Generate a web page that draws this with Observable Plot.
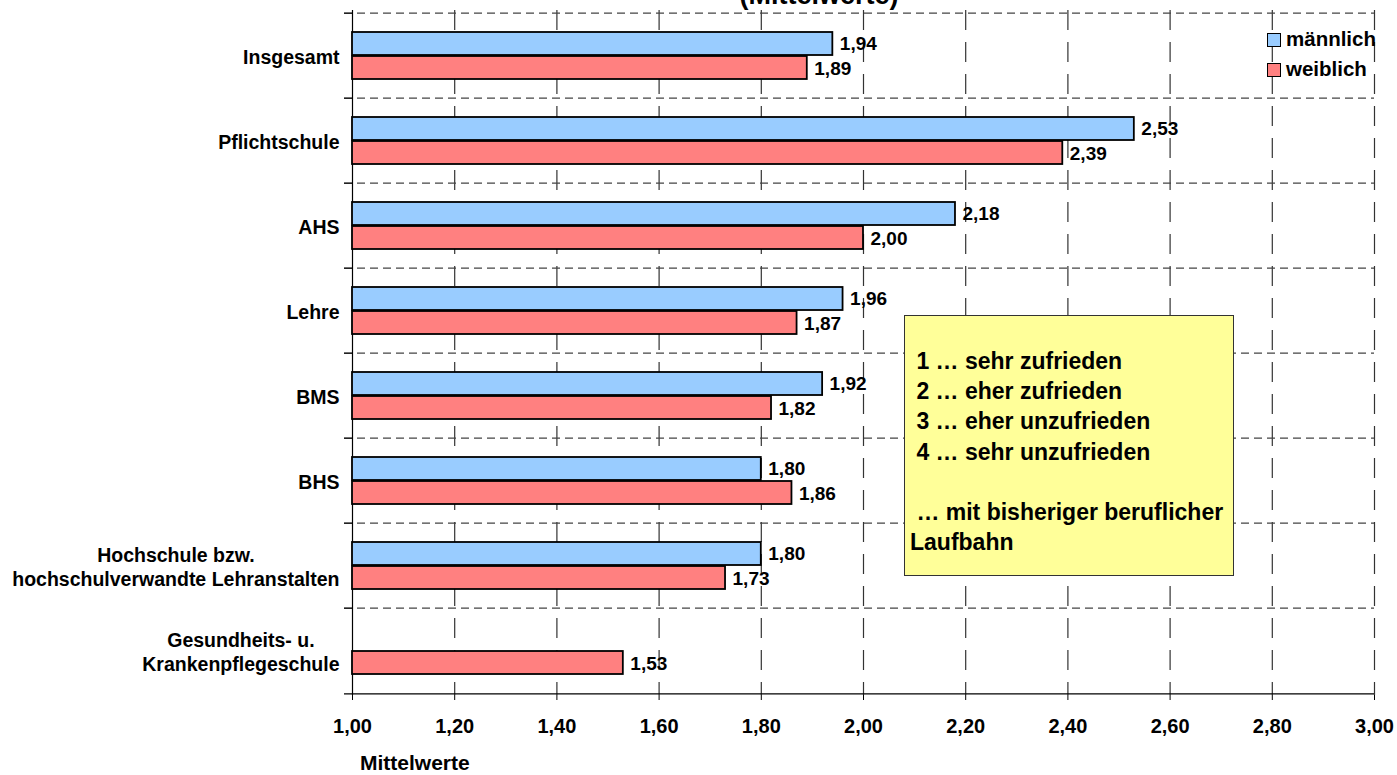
<!DOCTYPE html>
<html>
<head>
<meta charset="utf-8">
<script src="https://cdn.jsdelivr.net/npm/d3@7"></script>
<script src="https://cdn.jsdelivr.net/npm/@observablehq/plot@0.6"></script>
<style>
  html, body { margin: 0; padding: 0; background: #fff; overflow: hidden; }
  #wrap { position: relative; width: 1397px; height: 775px; overflow: hidden; font-family: "Liberation Sans", Arial, sans-serif; font-weight: bold; color: #000; }
  #chart { position: absolute; left: 0; top: 0; }
  .title { position: absolute; top: -18px; left: 0; width: 1638px; text-align: center; font-size: 27px; line-height: 27px; }
  .legend { position: absolute; left: 1267px; font-size: 20.5px; line-height: 20px; white-space: nowrap; }
  .legend span.sw { display: inline-block; width: 12px; height: 12px; border: 1.5px solid #000; vertical-align: -1px; margin-right: 5px; }
  .note { position: absolute; left: 904px; top: 315px; width: 330px; height: 261px; background: #FFFF99; border: 1.5px solid #333; box-sizing: border-box; }
  .note div { position: absolute; left: 5px; font-size: 23px; line-height: 30px; white-space: pre; }
  .xlabel { position: absolute; left: 360px; top: 752px; font-size: 21px; line-height: 22px; }
</style>
</head>
<body>
<div id="wrap">
  <div id="chart"></div>
</div>
<script>
// ---- data ----
const categories = ["Insgesamt", "Pflichtschule", "AHS", "Lehre", "BMS", "BHS", "Hochschule", "Gesundheit"];
const categoryLabels = [
  "Insgesamt",
  "Pflichtschule",
  "AHS",
  "Lehre",
  "BMS",
  "BHS",
  "Hochschule bzw.\nhochschulverwandte Lehranstalten",
  "Gesundheits- u.\nKrankenpflegeschule"
];
const maennlich = [1.94, 2.53, 2.18, 1.96, 1.92, 1.80, 1.80, null];
const weiblich  = [1.89, 2.39, 2.00, 1.87, 1.82, 1.86, 1.73, 1.53];
const seriesNames = ["männlich", "weiblich"];
const seriesColors = ["#99CCFF", "#FF8080"];
const xTicks = [1.0, 1.2, 1.4, 1.6, 1.8, 2.0, 2.2, 2.4, 2.6, 2.8, 3.0];
const titleText = "(Mittelwerte)";
const axisTitle = "Mittelwerte";
const noteLines = [" 1 … sehr zufrieden", " 2 … eher zufrieden", " 3 … eher unzufrieden", " 4 … sehr unzufrieden", "", " … mit bisheriger beruflicher", "Laufbahn"];

// ---- layout ----
const W = 1397, H = 775;
const mL = 352, mR = 23, mT = 10, mB = 80;
const band = (H - mT - mB) / categories.length;
const fmt = d => d.toFixed(2).replace(".", ",");

const maleRows = categories.map((c, i) => ({c, v: maennlich[i]})).filter(d => d.v != null);
const femaleRows = categories.map((c, i) => ({c, v: weiblich[i]})).filter(d => d.v != null);

// measure label widths for centred multi-line labels
const ctx = document.createElement("canvas").getContext("2d");
const labelFontSize = 19.5;
ctx.font = `bold ${labelFontSize}px "Liberation Sans", Arial`;
const labelMarks = categories.map((c, i) => {
  const lines = categoryLabels[i].split("\n");
  const w = Math.max(...lines.map(l => ctx.measureText(l).width));
  return Plot.text([c], {
    y: d => d, text: () => categoryLabels[i], frameAnchor: "left",
    textAnchor: "middle", dx: -(13 + w / 2), lineHeight: 1.28,
    fontSize: labelFontSize, fontWeight: "bold", fill: "#000"
  });
});

const chart = Plot.plot({
  width: W, height: H,
  marginLeft: mL, marginRight: mR, marginTop: mT, marginBottom: mB,
  style: {fontFamily: '"Liberation Sans", Arial, sans-serif', fontWeight: "bold", color: "#000", background: "transparent", overflow: "visible"},
  x: {domain: [1, 3]},
  y: {domain: categories, padding: 0, axis: null},
  marks: [
    // vertical dashed grid
    Plot.ruleX(xTicks.slice(1), {stroke: "#333", strokeWidth: 1.2, strokeDasharray: "20,12"}),
    // horizontal dashed grid at category boundaries
    Plot.ruleY(categories, {y: d => d, dy: -band / 2, stroke: "#444", strokeWidth: 1.2, strokeDasharray: "8,5", insetLeft: -8}),
    // left-axis boundary ticks
    Plot.ruleY(categories, {y: d => d, dy: -band / 2, x1: 1, x2: 1, insetLeft: -8, stroke: "#000"}),
    // bottom axis line
    Plot.ruleY(categories.slice(-1), {y: d => d, dy: band / 2, stroke: "#000", strokeWidth: 1.2, insetLeft: -8}),
    // small ticks above the bottom axis
    Plot.ruleX(xTicks, {y1: categories[categories.length - 1], y2: categories[categories.length - 1], dy: band / 2, insetTop: -5, stroke: "#000"}),
    // left axis line
    Plot.ruleX([1], {stroke: "#000", strokeWidth: 1.2}),
    // bars
    Plot.barX(maleRows, {y: "c", x1: () => 1, x2: "v", fill: seriesColors[0], stroke: "#000", strokeWidth: 1.8, insetTop: 19, insetBottom: 43}),
    Plot.barX(femaleRows, {y: "c", x1: () => 1, x2: "v", fill: seriesColors[1], stroke: "#000", strokeWidth: 1.8, insetTop: 43, insetBottom: 19}),
    // value labels
    Plot.text(maleRows, {y: "c", x: "v", text: d => fmt(d.v), dx: 7, dy: -12, textAnchor: "start", fontSize: 19, fontWeight: "bold", fill: "#000"}),
    Plot.text(femaleRows, {y: "c", x: "v", text: d => fmt(d.v), dx: 7, dy: 12.5, textAnchor: "start", fontSize: 19, fontWeight: "bold", fill: "#000"}),
    // category labels
    ...labelMarks,
    // x axis
    Plot.axisX(xTicks, {tickFormat: fmt, tickSize: 5, tickPadding: 18, fontSize: 20, fontWeight: "bold", label: null, stroke: "#000"})
  ]
});
document.getElementById("chart").appendChild(chart);

// ---- texts around the svg ----
const wrap = document.getElementById("wrap");
const t = document.createElement("div"); t.className = "title"; t.textContent = titleText; wrap.appendChild(t);
seriesNames.forEach((n, i) => {
  const d = document.createElement("div"); d.className = "legend";
  d.style.top = (29 + i * 30) + "px";
  d.innerHTML = `<span class="sw" style="background:${seriesColors[i]}"></span>${n}`;
  wrap.appendChild(d);
});
const note = document.createElement("div"); note.className = "note";
noteLines.forEach((l, i) => {
  const d = document.createElement("div"); d.textContent = l;
  d.style.top = (30 + i * 30.2) + "px";
  note.appendChild(d);
});
wrap.appendChild(note);
const xl = document.createElement("div"); xl.className = "xlabel"; xl.textContent = axisTitle; wrap.appendChild(xl);
</script>
</body>
</html>
